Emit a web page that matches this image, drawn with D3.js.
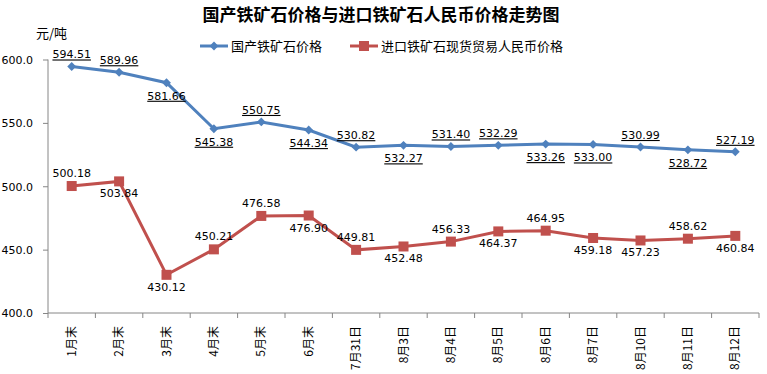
<!DOCTYPE html>
<html>
<head>
<meta charset="utf-8">
<script src="https://cdn.jsdelivr.net/npm/d3@7"></script>
<style>
  body { margin: 0; background: #fff; }
  svg { display: block; }
  .cjk { font-family: "Noto Sans CJK SC", sans-serif; }
  .num { font-family: "DejaVu Sans", sans-serif; font-size: 11px; fill: #000; }
</style>
</head>
<body>
<svg id="chart" width="767" height="374"></svg>
<script>
// categories + values
var categories = ['1月末', '2月末', '3月末', '4月末', '5月末', '6月末', '7月31日',
  '8月3日', '8月4日', '8月5日', '8月6日', '8月7日', '8月10日', '8月11日', '8月12日'];
var domestic = [594.51, 589.96, 581.66, 545.38, 550.75, 544.34, 530.82,
  532.27, 531.40, 532.29, 533.26, 533.00, 530.99, 528.72, 527.19];
var imported = [500.18, 503.84, 430.12, 450.21, 476.58, 476.90, 449.81,
  452.48, 456.33, 464.37, 464.95, 459.18, 457.23, 458.62, 460.84];
var yTicks = [400, 450, 500, 550, 600];
// label side: 1 = above point, 0 = below
var domesticAbove = [1, 1, 0, 0, 1, 0, 1, 0, 1, 1, 0, 0, 1, 0, 1];
var importedAbove = [1, 0, 0, 1, 1, 0, 1, 0, 1, 0, 1, 0, 0, 1, 0];

var blue = '#4F81BD', red = '#C0504D', axisColor = '#868686';

var svg = d3.select('#chart');
var plotLeft = 48, plotRight = 759, plotTop = 59.5, plotBottom = 313;

var x = d3.scaleBand().domain(categories).range([plotLeft, plotRight]);
var y = d3.scaleLinear().domain([400, 600]).range([plotBottom, plotTop]);
var cx = function(i) { return x(categories[i]) + x.bandwidth() / 2; };

// title
svg.append('text')
  .attr('class', 'cjk')
  .attr('x', 381).attr('y', 21)
  .attr('text-anchor', 'middle')
  .attr('font-size', '17px')
  .attr('font-weight', 'bold')
  .text('国产铁矿石价格与进口铁矿石人民币价格走势图');

svg.append('text')
  .attr('class', 'cjk')
  .attr('x', 36).attr('y', 38)
  .attr('font-size', '13px')
  .text('元/吨');

// y axis
var yAxis = svg.append('g')
  .attr('transform', 'translate(' + plotLeft + ',0)')
  .call(d3.axisLeft(y).tickValues(yTicks).tickSize(5).tickPadding(10)
    .tickFormat(d3.format('.1f')));
yAxis.select('.domain').attr('stroke', axisColor).attr('d', 'M0,' + plotTop + 'V' + plotBottom);
yAxis.selectAll('.tick line').attr('stroke', axisColor);
yAxis.selectAll('.tick text').attr('class', 'num').attr('dy', '0.35em');

// x axis: ticks at band boundaries
var xAxis = svg.append('g');
xAxis.append('line')
  .attr('x1', plotLeft).attr('x2', plotRight)
  .attr('y1', plotBottom).attr('y2', plotBottom)
  .attr('stroke', axisColor);
xAxis.selectAll('line.tk')
  .data(categories.concat(['end']))
  .enter().append('line')
  .attr('class', 'tk')
  .attr('x1', function(d, i) { return plotLeft + i * x.bandwidth(); })
  .attr('x2', function(d, i) { return plotLeft + i * x.bandwidth(); })
  .attr('y1', plotBottom).attr('y2', plotBottom + 5)
  .attr('stroke', axisColor);
xAxis.selectAll('text')
  .data(categories)
  .enter().append('text')
  .attr('class', 'cjk')
  .attr('font-size', '12px')
  .attr('text-anchor', 'end')
  .attr('transform', function(d, i) {
    return 'translate(' + (cx(i) + 4) + ',' + (plotBottom + 13) + ') rotate(-90)';
  })
  .text(function(d) { return d; });

// lines
var line = function(vals) {
  return d3.line().x(function(d, i) { return cx(i); }).y(function(d) { return y(d); })(vals);
};

svg.append('path')
  .attr('d', line(imported))
  .attr('fill', 'none').attr('stroke', red).attr('stroke-width', 3);
svg.append('path')
  .attr('d', line(domestic))
  .attr('fill', 'none').attr('stroke', blue).attr('stroke-width', 3);

var diamond = d3.symbol().type(d3.symbolDiamond2).size(50);

svg.selectAll('rect.sq')
  .data(imported)
  .enter().append('rect')
  .attr('class', 'sq')
  .attr('x', function(d, i) { return cx(i) - 5; })
  .attr('y', function(d) { return y(d) - 5; })
  .attr('width', 10).attr('height', 10)
  .attr('fill', red);

svg.selectAll('path.dm')
  .data(domestic)
  .enter().append('path')
  .attr('class', 'dm')
  .attr('d', diamond)
  .attr('transform', function(d, i) { return 'translate(' + cx(i) + ',' + y(d) + ')'; })
  .attr('fill', blue);

// data labels
svg.selectAll('text.dl')
  .data(domestic)
  .enter().append('text')
  .attr('class', 'num dl')
  .attr('text-anchor', 'middle')
  .attr('text-decoration', 'underline')
  .attr('x', function(d, i) { return cx(i); })
  .attr('y', function(d, i) { return y(d) + (domesticAbove[i] ? -8 : 17); })
  .text(function(d) { return d.toFixed(2); });

svg.selectAll('text.il')
  .data(imported)
  .enter().append('text')
  .attr('class', 'num il')
  .attr('text-anchor', 'middle')
  .attr('x', function(d, i) { return cx(i); })
  .attr('y', function(d, i) { return y(d) + (importedAbove[i] ? -9 : 16); })
  .text(function(d) { return d.toFixed(2); });

// legend
var legend = [
  { name: '国产铁矿石价格', color: blue, x: 200, mark: 'diamond' },
  { name: '进口铁矿石现货贸易人民币价格', color: red, x: 350, mark: 'square' }
];
legend.forEach(function(l) {
  var g = svg.append('g').attr('transform', 'translate(' + l.x + ',46)');
  g.append('line').attr('x1', 0).attr('x2', 28).attr('stroke', l.color).attr('stroke-width', 3);
  if (l.mark === 'diamond') {
    g.append('path').attr('d', diamond).attr('transform', 'translate(14,0)').attr('fill', l.color);
  } else {
    g.append('rect').attr('x', 9).attr('y', -5).attr('width', 10).attr('height', 10).attr('fill', l.color);
  }
  g.append('text')
    .attr('class', 'cjk')
    .attr('x', 31).attr('y', 5)
    .attr('font-size', '13px')
    .text(l.name);
});
</script>
</body>
</html>
